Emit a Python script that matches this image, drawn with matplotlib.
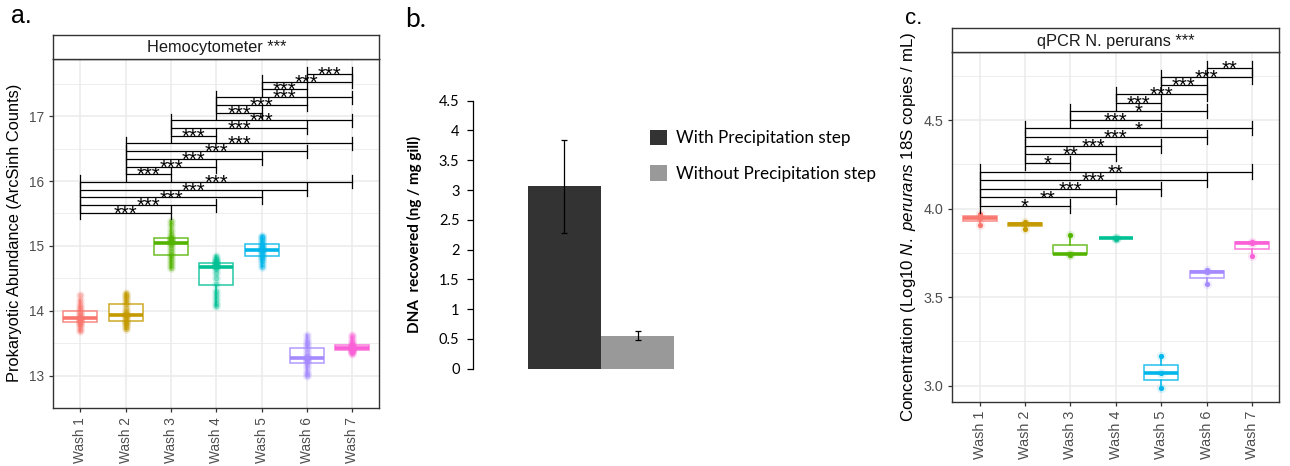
"""Three-panel figure: cell counts per wash, DNA yield, and qPCR per wash."""

import matplotlib

matplotlib.use("Agg")
import matplotlib.pyplot as plt
import numpy as np

plt.rcParams["font.family"] = ["Liberation Sans", "DejaVu Sans"]
plt.rcParams["mathtext.fontset"] = "custom"
plt.rcParams["mathtext.rm"] = "Liberation Sans"
plt.rcParams["mathtext.it"] = "Liberation Sans:italic"

WASHES = ["Wash 1", "Wash 2", "Wash 3", "Wash 4", "Wash 5", "Wash 6", "Wash 7"]
HUE = ["#F8766D", "#C49A00", "#53B400", "#00C094", "#00B6EB", "#A58AFF", "#FB61D7"]

# Hemocytometer counts (arcsinh), one list per wash
hemo_wash1 = [13.69, 13.72, 13.76, 13.79, 13.81, 13.83, 13.85, 13.87, 13.88, 13.88,
              13.89, 13.91, 13.93, 13.96, 13.98, 14.02, 14.06, 14.11, 14.17, 14.24]
hemo_wash2 = [13.72, 13.75, 13.78, 13.81, 13.83, 13.84, 13.87, 13.90, 13.93, 13.94,
              13.94, 13.96, 13.99, 14.04, 14.10, 14.14, 14.18, 14.21, 14.24, 14.28]
hemo_wash3 = [14.66, 14.70, 14.75, 14.80, 14.84, 14.87, 14.92, 14.97, 15.01, 15.04,
              15.06, 15.07, 15.09, 15.11, 15.12, 15.14, 15.19, 15.25, 15.32, 15.39]
hemo_wash4 = [14.08, 14.12, 14.18, 14.24, 14.30, 14.42, 14.50, 14.58, 14.64, 14.67,
              14.69, 14.70, 14.71, 14.72, 14.73, 14.74, 14.76, 14.78, 14.80, 14.84]
hemo_wash5 = [14.67, 14.72, 14.76, 14.80, 14.83, 14.85, 14.87, 14.90, 14.92, 14.93,
              14.95, 14.96, 14.98, 15.00, 15.02, 15.04, 15.07, 15.10, 15.13, 15.16]
hemo_wash6 = [12.99, 13.02, 13.06, 13.11, 13.16, 13.21, 13.23, 13.25, 13.26, 13.27,
              13.27, 13.29, 13.32, 13.36, 13.41, 13.45, 13.48, 13.52, 13.57, 13.62]
hemo_wash7 = [13.34, 13.36, 13.37, 13.38, 13.39, 13.39, 13.40, 13.41, 13.42, 13.43,
              13.43, 13.44, 13.45, 13.46, 13.47, 13.49, 13.52, 13.55, 13.59, 13.63]

hemo_pairs = [(1, 3), (1, 4), (1, 5), (1, 6), (1, 7),
              (2, 3), (2, 4), (2, 5), (2, 6), (2, 7),
              (3, 4), (3, 6), (3, 7),
              (4, 5), (4, 6), (4, 7),
              (5, 6), (5, 7),
              (6, 7)]
hemo_stars = ["***"] * len(hemo_pairs)

# qPCR, log10 N. perurans 18S copies / mL
qpcr_wash1 = [3.91, 3.95, 3.97]
qpcr_wash2 = [3.885, 3.915, 3.925]
qpcr_wash3 = [3.74, 3.745, 3.85]
qpcr_wash4 = [3.83, 3.835, 3.835]
qpcr_wash5 = [2.99, 3.072, 3.168]
qpcr_wash6 = [3.576, 3.645, 3.655]
qpcr_wash7 = [3.732, 3.808, 3.812]

qpcr_pairs = [(1, 3), (1, 4), (1, 5), (1, 6), (1, 7),
              (2, 3), (2, 4), (2, 5), (2, 6), (2, 7),
              (3, 5), (3, 6),
              (4, 5), (4, 6),
              (5, 6), (5, 7),
              (6, 7)]
qpcr_stars = ["*", "**", "***", "***", "**",
              "*", "**", "***", "***", "*",
              "***", "*",
              "***", "***",
              "***", "***",
              "**"]

# DNA recovered (ng / mg gill), mean and error
dna_labels = ["With Precipitation step", "Without Precipitation step"]
dna_mean = [3.06, 0.55]
dna_err = [0.78, 0.075]

GRID = "#EBEBEB"
DARK = "#333333"
TICK_TXT = "#4D4D4D"
W, H = 1290, 466


def px_box(left, top, right, bottom):
    """Convert a pixel rectangle (origin top-left) into a figure-fraction box."""
    return [left / W, 1 - bottom / H, (right - left) / W, (bottom - top) / H]


def style_bw(ax, ylim, yticks, yminor, tick_size):
    # called after the boxplots, which otherwise overwrite the x tick labels
    ax.set_xlim(0.4, 7.6)
    ax.set_ylim(*ylim)
    ax.set_xticks(range(1, 8))
    ax.set_xticklabels(WASHES, rotation=90, fontsize=tick_size, color=TICK_TXT)
    ax.set_yticks(yticks)
    ax.set_yticks(yminor, minor=True)
    ax.tick_params(axis="y", labelsize=tick_size, labelcolor=TICK_TXT)
    ax.tick_params(which="major", length=3, width=0.9, color=DARK)
    ax.tick_params(which="minor", length=0)
    ax.grid(which="major", color=GRID, lw=1.1)
    ax.grid(which="minor", axis="y", color=GRID, lw=0.6)
    ax.set_axisbelow(True)
    for s in ax.spines.values():
        s.set_color(DARK)
        s.set_linewidth(1.0)


def add_strip(fig, box, title):
    sax = fig.add_axes(box)
    sax.set_xticks([])
    sax.set_yticks([])
    for s in sax.spines.values():
        s.set_color(DARK)
        s.set_linewidth(1.0)
    sax.text(0.5, 0.45, title, ha="center", va="center", fontsize=11.8,
             color="#1A1A1A", transform=sax.transAxes)
    return sax


def draw_groups(ax, groups, point_alpha, core_size, halo_size):
    for i, (vals, col) in enumerate(zip(groups, HUE), start=1):
        bp = ax.boxplot([vals], positions=[i], widths=0.75, patch_artist=True,
                        showfliers=False, showcaps=False, whis=1.5)
        bp["boxes"][0].set(facecolor="white", edgecolor=col, linewidth=1.1, alpha=0.85)
        for w in bp["whiskers"]:
            w.set(color=col, linewidth=1.1)
        bp["medians"][0].set(color=col, linewidth=2.6)
        x = np.full(len(vals), i)
        ax.scatter(x, vals, s=halo_size, color=col, alpha=0.15, lw=0, zorder=3)
        ax.scatter(x, vals, s=core_size, color=col, alpha=point_alpha, lw=0, zorder=3)


def draw_brackets(ax, pairs, labels, y0, step, tip, star_size):
    for k, ((a, b), lab) in enumerate(zip(pairs, labels)):
        y = y0 + k * step
        ax.plot([a, b], [y, y], color="black", lw=0.9, zorder=4)
        ax.plot([a, a], [y - tip, y + tip], color="black", lw=0.9, zorder=4)
        ax.plot([b, b], [y - tip, y + tip], color="black", lw=0.9, zorder=4)
        ax.annotate(lab, xy=((a + b) / 2, y), xytext=(0, -5.0), textcoords="offset points",
                    ha="center", va="baseline", fontsize=star_size, zorder=5)


fig = plt.figure(figsize=(W / 100, H / 100), dpi=100)

# a. hemocytometer
ax_a = fig.add_axes(px_box(53.3, 58.5, 379.3, 408))
draw_groups(ax_a, [hemo_wash1, hemo_wash2, hemo_wash3, hemo_wash4,
                   hemo_wash5, hemo_wash6, hemo_wash7], 0.45, 16, 40)
draw_brackets(ax_a, hemo_pairs, hemo_stars, 15.51, 0.119, 0.1, 14.5)
style_bw(ax_a, (12.77, 17.89), [13, 14, 15, 16, 17],
         [12.5, 13.5, 14.5, 15.5, 16.5, 17.5], 9.8)
ax_a.set_ylabel("Prokaryotic Abundance (ArcSinh Counts)", fontsize=11.8, labelpad=5)
add_strip(fig, px_box(53.3, 35, 379.3, 58.5), "Hemocytometer ***")

# b. DNA yield bar chart
ax_b = fig.add_axes(px_box(472.7, 100.7, 720, 368.7))
bars = ax_b.bar([0, 1], dna_mean, width=1.0, color=["#333333", "#999999"], zorder=2)
ax_b.errorbar([0, 1], dna_mean, yerr=dna_err, fmt="none", ecolor="black",
              elinewidth=0.9, capsize=2.5, capthick=0.9, zorder=3)
ax_b.set_xlim(-1.2504, 2.1235)
ax_b.set_ylim(0, 4.5)
ax_b.set_yticks(np.arange(0, 4.51, 0.5))
ax_b.set_yticklabels(["0", "0.5", "1", "1.5", "2", "2.5", "3", "3.5", "4", "4.5"],
                     fontfamily="Lato", fontsize=10.5, color="black")
ax_b.set_xticks([])
ax_b.tick_params(axis="y", length=4.5, width=0.9, color="black", pad=5)
for side in ("top", "right", "bottom"):
    ax_b.spines[side].set_visible(False)
ax_b.spines["left"].set_linewidth(0.9)
ax_b.set_ylabel("DNA  recovered (ng / mg gill)", fontfamily="Lato", fontweight="bold",
                fontsize=11, labelpad=12)
ax_b.legend(bars.patches, dna_labels, loc="upper left", bbox_to_anchor=(650 / W, 1 - 130 / H),
            bbox_transform=fig.transFigure, frameon=False, prop={"family": "Lato", "size": 12.3},
            handlelength=1.0, handleheight=1.0, handletextpad=0.5, labelspacing=1.1,
            borderpad=0, borderaxespad=0)

# c. qPCR
ax_c = fig.add_axes(px_box(952.3, 52.3, 1279.3, 401.7))
draw_groups(ax_c, [qpcr_wash1, qpcr_wash2, qpcr_wash3, qpcr_wash4,
                   qpcr_wash5, qpcr_wash6, qpcr_wash7], 1.0, 14, 45)
draw_brackets(ax_c, qpcr_pairs, qpcr_stars, 4.015, 0.0487, 0.04, 14.5)
style_bw(ax_c, (2.91, 4.883), [3.0, 3.5, 4.0, 4.5], [3.25, 3.75, 4.25, 4.75], 10.4)
ax_c.set_yticklabels(["3.0", "3.5", "4.0", "4.5"])
ax_c.set_ylabel(r"Concentration (Log10 $\mathit{N.\ perurans}$ 18S copies / mL)",
                fontsize=12.2, labelpad=4)
add_strip(fig, px_box(952.3, 28.3, 1279.3, 52.3), "qPCR N. perurans ***")

# panel letters
fig.text(11.5 / W, 1 - 22.7 / H, "a.", fontsize=18, va="baseline", ha="left")
fig.text(405 / W, 1 - 27.3 / H, "b.", fontsize=19, va="baseline", ha="left", fontfamily="Lato")
fig.text(905 / W, 1 - 24 / H, "c.", fontsize=16, va="baseline", ha="left")

fig.savefig("out.png", dpi=100)
